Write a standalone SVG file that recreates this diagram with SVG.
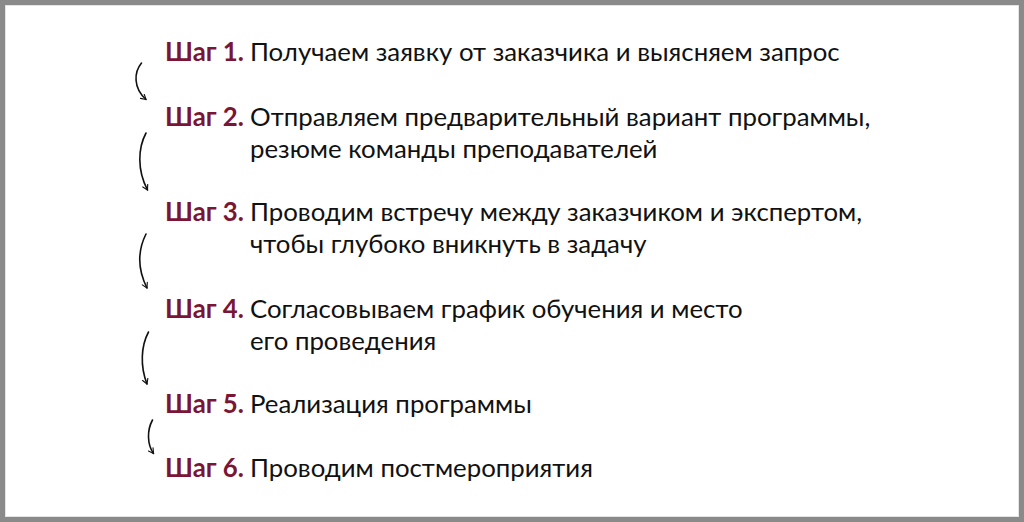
<svg xmlns="http://www.w3.org/2000/svg" width="1024" height="522" viewBox="0 0 1024 522">
<style>
  text { font-family: Lato, "Noto Sans", "Liberation Sans", sans-serif; font-size: 25.8px; fill: #111111; }
  .step { font-weight: bold; fill: #7a1535; }
  .arc { fill: none; stroke: #111; stroke-width: 1.6; stroke-linecap: round; }
</style>
<defs>
  <marker id="ah" viewBox="0 0 10 10" refX="8" refY="5" markerWidth="7" markerHeight="7" orient="auto" markerUnits="userSpaceOnUse">
    <path d="M1,1 L8,5 L1,9" fill="none" stroke="#111" stroke-width="1.6" stroke-linecap="round" stroke-linejoin="round"/>
  </marker>
</defs>
<rect x="0" y="0" width="1024" height="522" fill="#ffffff"/>
<rect x="2.5" y="2.5" width="1019" height="517" fill="none" stroke="#8a8a8a" stroke-width="5"/>
<rect x="5.5" y="5.5" width="1013" height="511" fill="none" stroke="#e4e4e4" stroke-width="1"/>

<g id="connectors">
  <path class="arc" d="M141.5,63 C134,72 133,88 146,99.5" marker-end="url(#ah)"/>
  <path class="arc" d="M146,133 C138,148 137,170 147.5,190" marker-end="url(#ah)"/>
  <path class="arc" d="M146,234 C138,250 137,268 147,288" marker-end="url(#ah)"/>
  <path class="arc" d="M148.5,332 C141,346 140,366 147,384" marker-end="url(#ah)"/>
  <path class="arc" d="M152.5,420 C147,430 147,444 153.5,453.5" marker-end="url(#ah)"/>
</g>

<g id="step1">
  <text class="step" x="165" y="60.5">Шаг 1.</text>
  <text x="250" y="60.5">Получаем заявку от заказчика и выясняем запрос</text>
</g>
<g id="step2">
  <text class="step" x="165" y="126">Шаг 2.</text>
  <text x="250" y="126">Отправляем предварительный вариант программы,</text>
  <text x="250" y="158">резюме команды преподавателей</text>
</g>
<g id="step3">
  <text class="step" x="165" y="221">Шаг 3.</text>
  <text x="250" y="221">Проводим встречу между заказчиком и экспертом,</text>
  <text x="250" y="253">чтобы глубоко вникнуть в задачу</text>
</g>
<g id="step4">
  <text class="step" x="165" y="318">Шаг 4.</text>
  <text x="250" y="318">Согласовываем график обучения и место</text>
  <text x="250" y="350">его проведения</text>
</g>
<g id="step5">
  <text class="step" x="165" y="413">Шаг 5.</text>
  <text x="250" y="413">Реализация программы</text>
</g>
<g id="step6">
  <text class="step" x="165" y="477">Шаг 6.</text>
  <text x="250" y="477">Проводим постмероприятия</text>
</g>
</svg>
